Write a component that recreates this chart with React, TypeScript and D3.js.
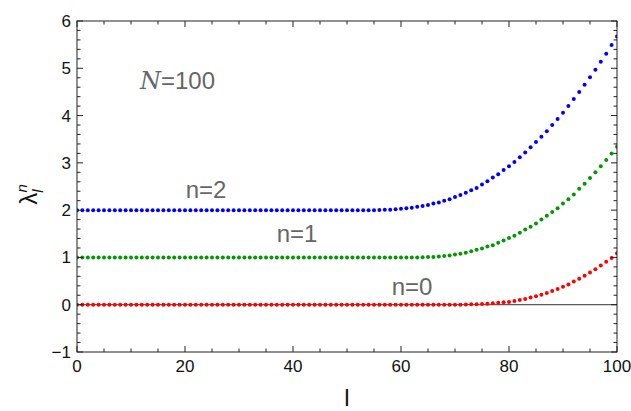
import React from 'react';
import * as d3 from 'd3';

// l = 0..100
const n2Values = [
  2, 2, 2, 2, 2, 2, 2, 2, 2, 2,
  2, 2, 2, 2, 2, 2, 2, 2, 2, 2,
  2, 2, 2, 2, 2, 2, 2, 2, 2, 2,
  2, 2, 2, 2, 2, 2, 2, 2, 2, 2,
  2, 2, 2, 2, 2, 2, 2, 2, 2, 2,
  2, 2, 2, 2, 2, 2, 2.005, 2.01, 2.01, 2.02,
  2.03, 2.04, 2.05, 2.07, 2.09, 2.11, 2.14, 2.16, 2.2, 2.23,
  2.28, 2.32, 2.37, 2.42, 2.47, 2.54, 2.61, 2.69, 2.76, 2.85,
  2.93, 3.02, 3.12, 3.22, 3.33, 3.44, 3.55, 3.67, 3.8, 3.93,
  4.06, 4.2, 4.35, 4.5, 4.65, 4.81, 4.97, 5.14, 5.31, 5.49,
  5.67,
];
const n1Values = [
  1, 1, 1, 1, 1, 1, 1, 1, 1, 1,
  1, 1, 1, 1, 1, 1, 1, 1, 1, 1,
  1, 1, 1, 1, 1, 1, 1, 1, 1, 1,
  1, 1, 1, 1, 1, 1, 1, 1, 1, 1,
  1, 1, 1, 1, 1, 1, 1, 1, 1, 1,
  1, 1, 1, 1, 1, 1, 1, 1, 1, 1,
  1, 1, 1, 1, 1.005, 1.01, 1.01, 1.02, 1.03, 1.04,
  1.06, 1.08, 1.1, 1.13, 1.16, 1.19, 1.23, 1.26, 1.31, 1.36,
  1.41, 1.46, 1.52, 1.59, 1.65, 1.72, 1.8, 1.88, 1.96, 2.04,
  2.14, 2.23, 2.33, 2.45, 2.56, 2.68, 2.8, 2.93, 3.06, 3.2,
  3.34,
];
const n0Values = [
  0, 0, 0, 0, 0, 0, 0, 0, 0, 0,
  0, 0, 0, 0, 0, 0, 0, 0, 0, 0,
  0, 0, 0, 0, 0, 0, 0, 0, 0, 0,
  0, 0, 0, 0, 0, 0, 0, 0, 0, 0,
  0, 0, 0, 0, 0, 0, 0, 0, 0, 0,
  0, 0, 0, 0, 0, 0, 0, 0, 0, 0,
  0, 0, 0, 0, 0, 0, 0, 0, 0, 0,
  0, 0, 0.005, 0.01, 0.01, 0.015, 0.02, 0.03, 0.04, 0.05,
  0.06, 0.08, 0.1, 0.12, 0.15, 0.18, 0.21, 0.25, 0.29, 0.33,
  0.38, 0.43, 0.49, 0.55, 0.61, 0.68, 0.75, 0.83, 0.91, 0.99,
  1.09,
];

const seriesNames = ['n=0', 'n=1', 'n=2'];
const seriesColors = ['#ff0000', '#009900', '#0000ff'];
const xTicks = [0, 20, 40, 60, 80, 100];
const yTicks = [-1, 0, 1, 2, 3, 4, 5, 6];

const W = 631, H = 411;
const margin = { top: 21, right: 14, bottom: 59, left: 77 };

export default function App() {
  const x = d3.scaleLinear().domain([0, 100]).range([margin.left, W - margin.right]);
  const y = d3.scaleLinear().domain([-1, 6]).range([H - margin.bottom, margin.top]);
  const series = [n0Values, n1Values, n2Values];

  const xMinor = d3.range(0, 101, 5).filter(v => v % 20 !== 0);
  const yMinor = d3.range(-1, 6.001, 0.2).filter(v => Math.abs(v - Math.round(v)) > 0.01);

  const x0 = x(0), x1 = x(100), y0 = y(-1), y1 = y(6);
  const frame = '#222';
  const labelCol = '#666';

  return (
    <svg width={W} height={H} style={{ position: 'absolute', left: 0, top: 0 }}
      fontFamily="Liberation Sans, Arial, sans-serif">
      <defs>
        <clipPath id="plot">
          <rect x={x0} y={y1} width={x1 - x0} height={y0 - y1} />
        </clipPath>
      </defs>
      <rect width={W} height={H} fill="#fff" />

      {/* zero line */}
      <line x1={x0} x2={x1} y1={y(0)} y2={y(0)} stroke="#333" strokeWidth={1} />

      <g clipPath="url(#plot)">
        {series.map((vals, si) => (
          <g key={si} fill={seriesColors[si]}>
            {vals.map((v, i) => (
              <circle key={i} cx={x(i)} cy={y(v)} r={2} />
            ))}
          </g>
        ))}
      </g>

      {/* frame */}
      <rect x={x0} y={y1} width={x1 - x0} height={y0 - y1} fill="none" stroke={frame} strokeWidth={1} />

      {/* x ticks */}
      {xTicks.map(t => (
        <g key={'xt' + t} stroke={frame}>
          <line x1={x(t)} x2={x(t)} y1={y0} y2={y0 - 6} />
          <line x1={x(t)} x2={x(t)} y1={y1} y2={y1 + 6} />
        </g>
      ))}
      {xMinor.map(t => (
        <g key={'xm' + t} stroke={frame}>
          <line x1={x(t)} x2={x(t)} y1={y0} y2={y0 - 3.5} />
          <line x1={x(t)} x2={x(t)} y1={y1} y2={y1 + 3.5} />
        </g>
      ))}
      {yTicks.map(t => (
        <g key={'yt' + t} stroke={frame}>
          <line x1={x0} x2={x0 + 6} y1={y(t)} y2={y(t)} />
          <line x1={x1} x2={x1 - 6} y1={y(t)} y2={y(t)} />
        </g>
      ))}
      {yMinor.map(t => (
        <g key={'ym' + t.toFixed(1)} stroke={frame}>
          <line x1={x0} x2={x0 + 3.5} y1={y(t)} y2={y(t)} />
          <line x1={x1} x2={x1 - 3.5} y1={y(t)} y2={y(t)} />
        </g>
      ))}

      {/* tick labels */}
      {xTicks.map(t => (
        <text key={'xl' + t} x={x(t)} y={y0 + 20} textAnchor="middle" fontSize={17} fill="#111">{t}</text>
      ))}
      {yTicks.map(t => (
        <text key={'yl' + t} x={x0 - 6} y={y(t) + 6} textAnchor="end" fontSize={17} fill="#111">
          {t < 0 ? '\u2212' + Math.abs(t) : t}
        </text>
      ))}

      {/* axis titles */}
      <text x={(x0 + x1) / 2} y={H - 5} textAnchor="middle" fontSize={24} fill="#111">l</text>
      <text transform={`translate(37,${(y0 + y1) / 2 + 8}) rotate(-90)`} textAnchor="middle" fontSize={24} fill="#111">
        λ
        <tspan fontSize={15} fontStyle="italic" dy={6}>l</tspan>
        <tspan fontSize={15} fontStyle="italic" dx={-3} dy={-16}>n</tspan>
      </text>

      {/* annotations */}
      <text x={140} y={89} fontSize={24} fill={labelCol}>
        <tspan fontStyle="italic" fontFamily="DejaVu Serif, serif" fontWeight={300}>N</tspan>=100
      </text>
      <text x={206} y={198} textAnchor="middle" fontSize={24} fill={labelCol}>{seriesNames[2]}</text>
      <text x={297} y={242} textAnchor="middle" fontSize={24} fill={labelCol}>{seriesNames[1]}</text>
      <text x={412} y={295} textAnchor="middle" fontSize={24} fill={labelCol}>{seriesNames[0]}</text>
    </svg>
  );
}
